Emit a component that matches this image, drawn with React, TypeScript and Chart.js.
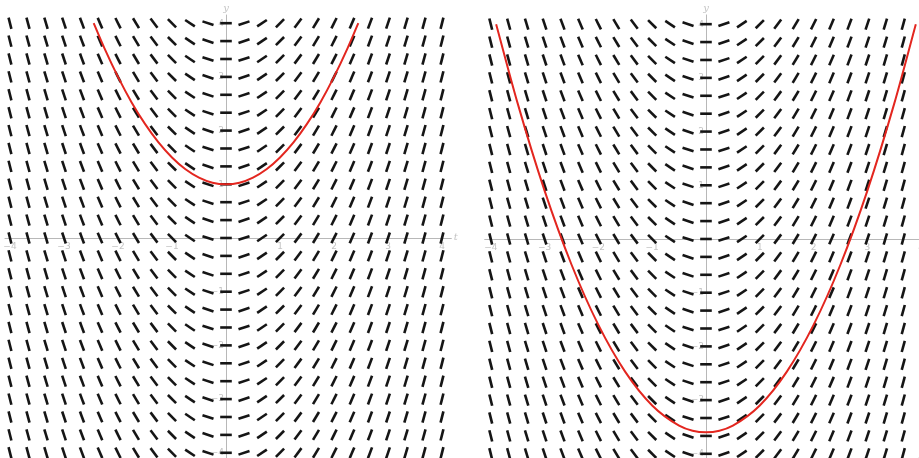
import { useEffect, useRef } from "react";
import { Chart, registerables } from "chart.js";

Chart.register(...registerables);

// Slope field dy/dt = t, sampled every 1/3 unit
const GRID_T = [-4, -3.6667, -3.3333, -3, -2.6667, -2.3333, -2, -1.6667, -1.3333, -1, -0.6667, -0.3333, 0, 0.3333, 0.6667, 1, 1.3333, 1.6667, 2, 2.3333, 2.6667, 3, 3.3333, 3.6667, 4];
const GRID_Y = [-4, -3.6667, -3.3333, -3, -2.6667, -2.3333, -2, -1.6667, -1.3333, -1, -0.6667, -0.3333, 0, 0.3333, 0.6667, 1, 1.3333, 1.6667, 2, 2.3333, 2.6667, 3, 3.3333, 3.6667, 4];

const X_TICKS = [-4, -3, -2, -1, 1, 2, 3, 4];
const Y_TICKS = [4, 3, 2, 1, -1, -2, -3, -4];

// Left solution curve (vertex at y = 1)
const LEFT_CURVE_T = [-2.45, -2.25, -2, -1.75, -1.5, -1.25, -1, -0.75, -0.5, -0.25, 0, 0.25, 0.5, 0.75, 1, 1.25, 1.5, 1.75, 2, 2.25, 2.45];
const LEFT_CURVE_Y = [4.0, 3.53, 3.0, 2.53, 2.125, 1.78, 1.5, 1.28, 1.125, 1.03, 1.0, 1.03, 1.125, 1.28, 1.5, 1.78, 2.125, 2.53, 3.0, 3.53, 4.0];

// Right solution curve (vertex at y = -3.6)
const RIGHT_CURVE_T = [-3.9, -3.5, -3, -2.5, -2, -1.5, -1, -0.5, -0.25, 0, 0.25, 0.5, 1, 1.5, 2, 2.5, 3, 3.5, 3.9];
const RIGHT_CURVE_Y = [4.0, 2.525, 0.9, -0.475, -1.6, -2.475, -3.1, -3.475, -3.57, -3.6, -3.57, -3.475, -3.1, -2.475, -1.6, -0.475, 0.9, 2.525, 4.0];

const axesPlugin = {
  id: "fieldAxes",
  beforeDatasetsDraw(chart: any, _args: any, opts: any) {
    const { ctx } = chart;
    const xs = chart.scales.x;
    const ys = chart.scales.y;
    const x0 = Math.round(xs.getPixelForValue(0));
    const y0 = Math.round(ys.getPixelForValue(0));
    ctx.save();
    ctx.strokeStyle = "#b8b8b8";
    ctx.lineWidth = 1;
    ctx.beginPath();
    ctx.moveTo(xs.getPixelForValue(opts.xFrom), y0 + 0.5);
    ctx.lineTo(xs.getPixelForValue(opts.xTo), y0 + 0.5);
    ctx.moveTo(x0 + 0.5, ys.getPixelForValue(opts.yTo));
    ctx.lineTo(x0 + 0.5, ys.getPixelForValue(opts.yFrom));
    ctx.stroke();

    ctx.fillStyle = "#c4c4c4";
    ctx.font = "9px 'DejaVu Sans', sans-serif";
    ctx.textAlign = "center";
    ctx.textBaseline = "top";
    for (const v of X_TICKS) {
      ctx.fillText(v < 0 ? "\u2212" + Math.abs(v) : String(v), xs.getPixelForValue(v), y0 + 4);
    }
    ctx.textAlign = "right";
    ctx.textBaseline = "middle";
    for (const v of Y_TICKS) {
      ctx.fillText(v < 0 ? "\u2212" + Math.abs(v) : String(v), x0 - 2, ys.getPixelForValue(v));
    }
    ctx.font = "italic 10px 'DejaVu Serif', serif";
    ctx.textAlign = "center";
    ctx.textBaseline = "middle";
    ctx.fillText("y", x0, ys.getPixelForValue(opts.yTo) - 6);
    if (opts.showT) {
      ctx.textAlign = "left";
      ctx.fillText("t", xs.getPixelForValue(opts.xTo) + 2, y0 - 1);
    }
    ctx.restore();
  },
};

function buildConfig(
  xMin: number,
  xMax: number,
  yMin: number,
  yMax: number,
  curveT: number[],
  curveY: number[],
  axisOpts: any
): any {
  const field: { x: number; y: number }[] = [];
  for (const t of GRID_T) for (const y of GRID_Y) field.push({ x: t, y });
  const curve = curveT.map((t, i) => ({ x: t, y: curveY[i] }));
  return {
    type: "scatter",
    data: {
      datasets: [
        {
          data: curve,
          showLine: true,
          borderColor: "#e3261f",
          borderWidth: 2,
          pointRadius: 0,
          fill: false,
          cubicInterpolationMode: "monotone",
          order: 0,
        },
        {
          data: field,
          pointStyle: "line",
          pointRadius: 5.8,
          pointHoverRadius: 5.8,
          pointBorderWidth: 2.6,
          pointBorderColor: "#151515",
          pointBackgroundColor: "#151515",
          rotation: (c: any) => (c.raw ? (-Math.atan(c.raw.x) * 180) / Math.PI : 0),
          order: 1,
        },
      ],
    },
    options: {
      animation: false,
      responsive: false,
      events: [],
      layout: { padding: 0, autoPadding: false },
      plugins: {
        legend: { display: false },
        tooltip: { enabled: false },
        fieldAxes: axisOpts,
      },
      scales: {
        x: { type: "linear", min: xMin, max: xMax, display: false },
        y: { type: "linear", min: yMin, max: yMax, display: false },
      },
    },
    plugins: [axesPlugin],
  };
}

export default function App() {
  const leftRef = useRef<HTMLCanvasElement>(null);
  const rightRef = useRef<HTMLCanvasElement>(null);

  useEffect(() => {
    const left = new Chart(
      leftRef.current!,
      buildConfig(-4.185, 4.5185, -4.097, 4.432, LEFT_CURVE_T, LEFT_CURVE_Y, {
        xFrom: -4.1,
        xTo: 4.18,
        yFrom: -4.2,
        yTo: 4.16,
        showT: true,
      })
    );
    const right = new Chart(
      rightRef.current!,
      buildConfig(-4.2, 3.959, -4.078, 4.45, RIGHT_CURVE_T, RIGHT_CURVE_Y, {
        xFrom: -4.12,
        xTo: 4.2,
        yFrom: -4.2,
        yTo: 4.18,
        showT: false,
      })
    );
    return () => {
      left.destroy();
      right.destroy();
    };
  }, []);

  return (
    <div style={{ position: "fixed", left: 0, top: 0, width: 919, height: 458, background: "#fff", overflow: "hidden" }}>
      <canvas ref={leftRef} width={470} height={458} style={{ position: "absolute", left: 0, top: 0 }} />
      <canvas ref={rightRef} width={439} height={458} style={{ position: "absolute", left: 480, top: 0 }} />
    </div>
  );
}
